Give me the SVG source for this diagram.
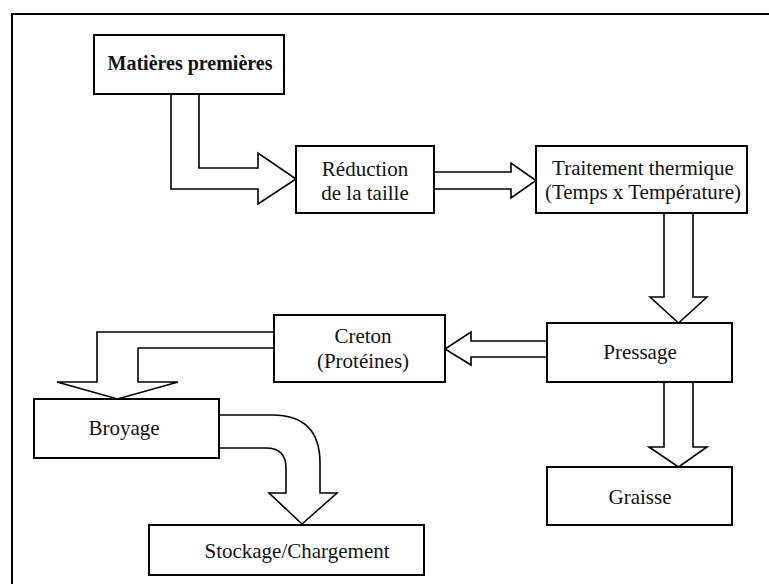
<svg xmlns="http://www.w3.org/2000/svg" width="769" height="584" viewBox="0 0 769 584">
<style>
  .box { fill: #ffffff; stroke: #000000; stroke-width: 2; }
  .arr { fill: none; stroke: #000000; stroke-width: 1.6; stroke-linejoin: miter; }
  .frame { fill: none; stroke: #000000; stroke-width: 2; }
  .t { font-family: 'Liberation Serif', 'DejaVu Serif', serif; font-size: 21px; fill: #111111; text-anchor: middle; }
  .bold { font-weight: bold; font-size: 20px; }
</style>
<rect x="0" y="0" width="769" height="584" fill="#ffffff"/>
<path class="frame" d="M12,584 L12,14 L769,14"/>

<g id="nodes" font-family="Liberation Serif, serif">
  <g id="matieres">
    <rect class="box" x="94" y="35" width="190" height="59"/>
    <text class="t bold" x="190" y="70">Matières premières</text>
  </g>
  <g id="reduction">
    <rect class="box" x="296" y="146" width="138" height="67"/>
    <text class="t" x="365" y="176">Réduction</text>
    <text class="t" x="365" y="200">de la taille</text>
  </g>
  <g id="traitement">
    <rect class="box" x="536" y="146" width="211" height="67"/>
    <text class="t" x="643" y="175">Traitement thermique</text>
    <text class="t" x="643" y="199">(Temps x Température)</text>
  </g>
  <g id="pressage">
    <rect class="box" x="547" y="323" width="185" height="59"/>
    <text class="t" x="640" y="359">Pressage</text>
  </g>
  <g id="graisse">
    <rect class="box" x="547" y="467" width="185" height="58"/>
    <text class="t" x="640" y="504">Graisse</text>
  </g>
  <g id="creton">
    <rect class="box" x="274" y="315" width="171" height="67"/>
    <text class="t" x="363" y="343">Creton</text>
    <text class="t" x="363" y="368">(Protéines)</text>
  </g>
  <g id="broyage">
    <rect class="box" x="34" y="399" width="185" height="59"/>
    <text class="t" x="124" y="435">Broyage</text>
  </g>
  <g id="stockage">
    <rect class="box" x="149" y="525" width="275" height="50"/>
    <text class="t" x="297" y="558">Stockage/Chargement</text>
  </g>
</g>

<g id="connectors">
  <path class="arr" d="M171,94 L171,189 L258,189 L258,204 L296,179 L258,153 L258,168 L199,168 L199,94"/>
  <path class="arr" d="M434,172 L511,172 L511,163 L536,180.5 L511,198 L511,189 L434,189"/>
  <path class="arr" d="M664,213 L664,297 L650,297 L678.5,323 L707,297 L693,297 L693,213"/>
  <path class="arr" d="M547,341 L471,341 L471,332 L445,349 L471,365 L471,357 L547,357"/>
  <path class="arr" d="M664,382 L664,447 L649,447 L678.5,467 L707,447 L693,447 L693,382"/>
  <path class="arr" d="M274,332 L97,332 L97,382 L57,382 L117.5,399 L178,382 L138,382 L138,348 L274,348"/>
  <path class="arr" d="M219,415 L272,415 Q320,415 320,463 L320,493 L337,493 L302,524 L269,493 L286,493 L286,468 Q286,448 266,448 L219,448"/>
</g>
</svg>
